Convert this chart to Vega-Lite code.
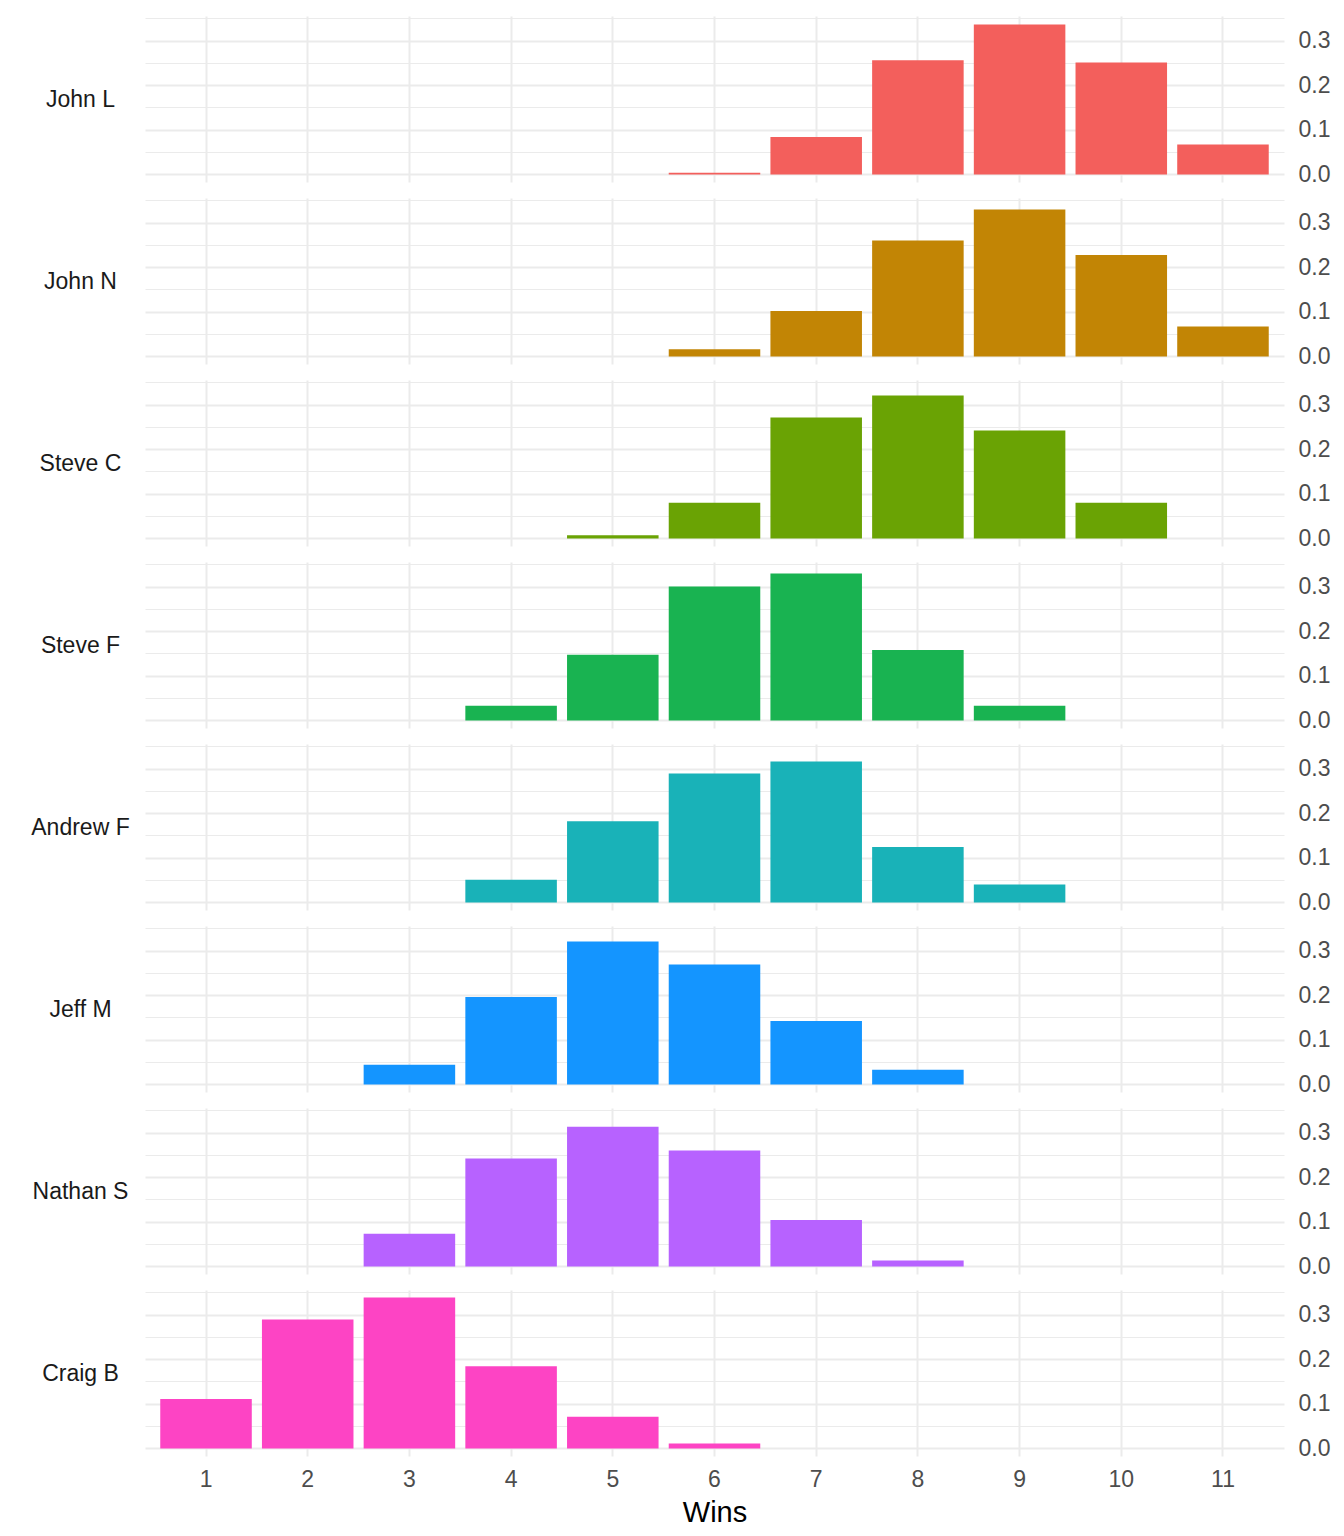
{
  "$schema": "https://vega.github.io/schema/vega-lite/v6.json",
  "background": "white",
  "padding": {"left": 30, "top": 16, "right": 5, "bottom": 5},
  "bounds": "flush",
  "spacing": 16,
  "data": {"values": [
    {"player": "John L", "wins": 6, "prob": 0.004},
    {"player": "John L", "wins": 7, "prob": 0.084},
    {"player": "John L", "wins": 8, "prob": 0.256},
    {"player": "John L", "wins": 9, "prob": 0.336},
    {"player": "John L", "wins": 10, "prob": 0.251},
    {"player": "John L", "wins": 11, "prob": 0.067},
    {"player": "John N", "wins": 6, "prob": 0.016},
    {"player": "John N", "wins": 7, "prob": 0.102},
    {"player": "John N", "wins": 8, "prob": 0.26},
    {"player": "John N", "wins": 9, "prob": 0.329},
    {"player": "John N", "wins": 10, "prob": 0.227},
    {"player": "John N", "wins": 11, "prob": 0.067},
    {"player": "Steve C", "wins": 5, "prob": 0.007},
    {"player": "Steve C", "wins": 6, "prob": 0.08},
    {"player": "Steve C", "wins": 7, "prob": 0.271},
    {"player": "Steve C", "wins": 8, "prob": 0.32},
    {"player": "Steve C", "wins": 9, "prob": 0.242},
    {"player": "Steve C", "wins": 10, "prob": 0.08},
    {"player": "Steve F", "wins": 4, "prob": 0.033},
    {"player": "Steve F", "wins": 5, "prob": 0.147},
    {"player": "Steve F", "wins": 6, "prob": 0.3},
    {"player": "Steve F", "wins": 7, "prob": 0.329},
    {"player": "Steve F", "wins": 8, "prob": 0.158},
    {"player": "Steve F", "wins": 9, "prob": 0.033},
    {"player": "Andrew F", "wins": 4, "prob": 0.051},
    {"player": "Andrew F", "wins": 5, "prob": 0.182},
    {"player": "Andrew F", "wins": 6, "prob": 0.289},
    {"player": "Andrew F", "wins": 7, "prob": 0.316},
    {"player": "Andrew F", "wins": 8, "prob": 0.124},
    {"player": "Andrew F", "wins": 9, "prob": 0.04},
    {"player": "Jeff M", "wins": 3, "prob": 0.044},
    {"player": "Jeff M", "wins": 4, "prob": 0.196},
    {"player": "Jeff M", "wins": 5, "prob": 0.32},
    {"player": "Jeff M", "wins": 6, "prob": 0.269},
    {"player": "Jeff M", "wins": 7, "prob": 0.142},
    {"player": "Jeff M", "wins": 8, "prob": 0.033},
    {"player": "Nathan S", "wins": 3, "prob": 0.073},
    {"player": "Nathan S", "wins": 4, "prob": 0.242},
    {"player": "Nathan S", "wins": 5, "prob": 0.313},
    {"player": "Nathan S", "wins": 6, "prob": 0.26},
    {"player": "Nathan S", "wins": 7, "prob": 0.104},
    {"player": "Nathan S", "wins": 8, "prob": 0.013},
    {"player": "Craig B", "wins": 1, "prob": 0.111},
    {"player": "Craig B", "wins": 2, "prob": 0.289},
    {"player": "Craig B", "wins": 3, "prob": 0.338},
    {"player": "Craig B", "wins": 4, "prob": 0.184},
    {"player": "Craig B", "wins": 5, "prob": 0.071},
    {"player": "Craig B", "wins": 6, "prob": 0.011}
  ]},
  "vconcat": [
    {
      "transform": [{"filter": "datum.player == 'John L'"}],
      "width": 1139, "height": 166, "mark": "bar",
      "encoding": {
        "x": {"field": "wins", "type": "ordinal", "scale": {"domain": [1,2,3,4,5,6,7,8,9,10,11], "paddingInner": 0.1, "paddingOuter": 0.15}, "axis": {"labels": false, "title": null}},
        "y": {"field": "prob", "type": "quantitative", "scale": {"domain": [-0.017, 0.355], "nice": false, "zero": false},
          "axis": {"orient": "right", "values": [0, 0.05, 0.1, 0.15, 0.2, 0.25, 0.3, 0.35],
            "labelExpr": "(round(datum.value*100) % 10 == 0) ? format(datum.value, '.1f') : ''",
            "gridWidth": {"condition": {"test": "round(datum.value*100) % 10 == 0", "value": 2}, "value": 1},
            "title": "John L", "titleX": -1204, "titleY": 83}},
        "color": {"field": "player", "type": "nominal", "legend": null, "scale": {"domain": ["John L", "John N", "Steve C", "Steve F", "Andrew F", "Jeff M", "Nathan S", "Craig B"], "range": ["#F35F5C", "#C28505", "#6AA304", "#19B351", "#19B2B8", "#1495FF", "#B762FF", "#FD44C4"]}}
      }
    },
    {
      "transform": [{"filter": "datum.player == 'John N'"}],
      "width": 1139, "height": 166, "mark": "bar",
      "encoding": {
        "x": {"field": "wins", "type": "ordinal", "scale": {"domain": [1,2,3,4,5,6,7,8,9,10,11], "paddingInner": 0.1, "paddingOuter": 0.15}, "axis": {"labels": false, "title": null}},
        "y": {"field": "prob", "type": "quantitative", "scale": {"domain": [-0.017, 0.355], "nice": false, "zero": false},
          "axis": {"orient": "right", "values": [0, 0.05, 0.1, 0.15, 0.2, 0.25, 0.3, 0.35],
            "labelExpr": "(round(datum.value*100) % 10 == 0) ? format(datum.value, '.1f') : ''",
            "gridWidth": {"condition": {"test": "round(datum.value*100) % 10 == 0", "value": 2}, "value": 1},
            "title": "John N", "titleX": -1204, "titleY": 83}},
        "color": {"field": "player", "type": "nominal", "legend": null, "scale": {"domain": ["John L", "John N", "Steve C", "Steve F", "Andrew F", "Jeff M", "Nathan S", "Craig B"], "range": ["#F35F5C", "#C28505", "#6AA304", "#19B351", "#19B2B8", "#1495FF", "#B762FF", "#FD44C4"]}}
      }
    },
    {
      "transform": [{"filter": "datum.player == 'Steve C'"}],
      "width": 1139, "height": 166, "mark": "bar",
      "encoding": {
        "x": {"field": "wins", "type": "ordinal", "scale": {"domain": [1,2,3,4,5,6,7,8,9,10,11], "paddingInner": 0.1, "paddingOuter": 0.15}, "axis": {"labels": false, "title": null}},
        "y": {"field": "prob", "type": "quantitative", "scale": {"domain": [-0.017, 0.355], "nice": false, "zero": false},
          "axis": {"orient": "right", "values": [0, 0.05, 0.1, 0.15, 0.2, 0.25, 0.3, 0.35],
            "labelExpr": "(round(datum.value*100) % 10 == 0) ? format(datum.value, '.1f') : ''",
            "gridWidth": {"condition": {"test": "round(datum.value*100) % 10 == 0", "value": 2}, "value": 1},
            "title": "Steve C", "titleX": -1204, "titleY": 83}},
        "color": {"field": "player", "type": "nominal", "legend": null, "scale": {"domain": ["John L", "John N", "Steve C", "Steve F", "Andrew F", "Jeff M", "Nathan S", "Craig B"], "range": ["#F35F5C", "#C28505", "#6AA304", "#19B351", "#19B2B8", "#1495FF", "#B762FF", "#FD44C4"]}}
      }
    },
    {
      "transform": [{"filter": "datum.player == 'Steve F'"}],
      "width": 1139, "height": 166, "mark": "bar",
      "encoding": {
        "x": {"field": "wins", "type": "ordinal", "scale": {"domain": [1,2,3,4,5,6,7,8,9,10,11], "paddingInner": 0.1, "paddingOuter": 0.15}, "axis": {"labels": false, "title": null}},
        "y": {"field": "prob", "type": "quantitative", "scale": {"domain": [-0.017, 0.355], "nice": false, "zero": false},
          "axis": {"orient": "right", "values": [0, 0.05, 0.1, 0.15, 0.2, 0.25, 0.3, 0.35],
            "labelExpr": "(round(datum.value*100) % 10 == 0) ? format(datum.value, '.1f') : ''",
            "gridWidth": {"condition": {"test": "round(datum.value*100) % 10 == 0", "value": 2}, "value": 1},
            "title": "Steve F", "titleX": -1204, "titleY": 83}},
        "color": {"field": "player", "type": "nominal", "legend": null, "scale": {"domain": ["John L", "John N", "Steve C", "Steve F", "Andrew F", "Jeff M", "Nathan S", "Craig B"], "range": ["#F35F5C", "#C28505", "#6AA304", "#19B351", "#19B2B8", "#1495FF", "#B762FF", "#FD44C4"]}}
      }
    },
    {
      "transform": [{"filter": "datum.player == 'Andrew F'"}],
      "width": 1139, "height": 166, "mark": "bar",
      "encoding": {
        "x": {"field": "wins", "type": "ordinal", "scale": {"domain": [1,2,3,4,5,6,7,8,9,10,11], "paddingInner": 0.1, "paddingOuter": 0.15}, "axis": {"labels": false, "title": null}},
        "y": {"field": "prob", "type": "quantitative", "scale": {"domain": [-0.017, 0.355], "nice": false, "zero": false},
          "axis": {"orient": "right", "values": [0, 0.05, 0.1, 0.15, 0.2, 0.25, 0.3, 0.35],
            "labelExpr": "(round(datum.value*100) % 10 == 0) ? format(datum.value, '.1f') : ''",
            "gridWidth": {"condition": {"test": "round(datum.value*100) % 10 == 0", "value": 2}, "value": 1},
            "title": "Andrew F", "titleX": -1204, "titleY": 83}},
        "color": {"field": "player", "type": "nominal", "legend": null, "scale": {"domain": ["John L", "John N", "Steve C", "Steve F", "Andrew F", "Jeff M", "Nathan S", "Craig B"], "range": ["#F35F5C", "#C28505", "#6AA304", "#19B351", "#19B2B8", "#1495FF", "#B762FF", "#FD44C4"]}}
      }
    },
    {
      "transform": [{"filter": "datum.player == 'Jeff M'"}],
      "width": 1139, "height": 166, "mark": "bar",
      "encoding": {
        "x": {"field": "wins", "type": "ordinal", "scale": {"domain": [1,2,3,4,5,6,7,8,9,10,11], "paddingInner": 0.1, "paddingOuter": 0.15}, "axis": {"labels": false, "title": null}},
        "y": {"field": "prob", "type": "quantitative", "scale": {"domain": [-0.017, 0.355], "nice": false, "zero": false},
          "axis": {"orient": "right", "values": [0, 0.05, 0.1, 0.15, 0.2, 0.25, 0.3, 0.35],
            "labelExpr": "(round(datum.value*100) % 10 == 0) ? format(datum.value, '.1f') : ''",
            "gridWidth": {"condition": {"test": "round(datum.value*100) % 10 == 0", "value": 2}, "value": 1},
            "title": "Jeff M", "titleX": -1204, "titleY": 83}},
        "color": {"field": "player", "type": "nominal", "legend": null, "scale": {"domain": ["John L", "John N", "Steve C", "Steve F", "Andrew F", "Jeff M", "Nathan S", "Craig B"], "range": ["#F35F5C", "#C28505", "#6AA304", "#19B351", "#19B2B8", "#1495FF", "#B762FF", "#FD44C4"]}}
      }
    },
    {
      "transform": [{"filter": "datum.player == 'Nathan S'"}],
      "width": 1139, "height": 166, "mark": "bar",
      "encoding": {
        "x": {"field": "wins", "type": "ordinal", "scale": {"domain": [1,2,3,4,5,6,7,8,9,10,11], "paddingInner": 0.1, "paddingOuter": 0.15}, "axis": {"labels": false, "title": null}},
        "y": {"field": "prob", "type": "quantitative", "scale": {"domain": [-0.017, 0.355], "nice": false, "zero": false},
          "axis": {"orient": "right", "values": [0, 0.05, 0.1, 0.15, 0.2, 0.25, 0.3, 0.35],
            "labelExpr": "(round(datum.value*100) % 10 == 0) ? format(datum.value, '.1f') : ''",
            "gridWidth": {"condition": {"test": "round(datum.value*100) % 10 == 0", "value": 2}, "value": 1},
            "title": "Nathan S", "titleX": -1204, "titleY": 83}},
        "color": {"field": "player", "type": "nominal", "legend": null, "scale": {"domain": ["John L", "John N", "Steve C", "Steve F", "Andrew F", "Jeff M", "Nathan S", "Craig B"], "range": ["#F35F5C", "#C28505", "#6AA304", "#19B351", "#19B2B8", "#1495FF", "#B762FF", "#FD44C4"]}}
      }
    },
    {
      "transform": [{"filter": "datum.player == 'Craig B'"}],
      "width": 1139, "height": 166, "mark": "bar",
      "encoding": {
        "x": {"field": "wins", "type": "ordinal", "scale": {"domain": [1,2,3,4,5,6,7,8,9,10,11], "paddingInner": 0.1, "paddingOuter": 0.15},
          "axis": {"title": "Wins", "labelPadding": 12, "titleFontSize": 29, "titleFontWeight": "normal", "titleColor": "#000000", "titlePadding": 7}},
        "y": {"field": "prob", "type": "quantitative", "scale": {"domain": [-0.017, 0.355], "nice": false, "zero": false},
          "axis": {"orient": "right", "values": [0, 0.05, 0.1, 0.15, 0.2, 0.25, 0.3, 0.35],
            "labelExpr": "(round(datum.value*100) % 10 == 0) ? format(datum.value, '.1f') : ''",
            "gridWidth": {"condition": {"test": "round(datum.value*100) % 10 == 0", "value": 2}, "value": 1},
            "title": "Craig B", "titleX": -1204, "titleY": 83}},
        "color": {"field": "player", "type": "nominal", "legend": null, "scale": {"domain": ["John L", "John N", "Steve C", "Steve F", "Andrew F", "Jeff M", "Nathan S", "Craig B"], "range": ["#F35F5C", "#C28505", "#6AA304", "#19B351", "#19B2B8", "#1495FF", "#B762FF", "#FD44C4"]}}
      }
    }
  ],
  "config": {
    "font": "Liberation Sans",
    "view": {"stroke": null},
    "axis": {"ticks": false, "domain": false, "grid": true, "gridColor": "#EBEBEB", "labelFontSize": 23, "labelColor": "#4D4D4D", "labelFont": "Liberation Sans"},
    "axisX": {"labelAngle": 0, "bandPosition": 0.5, "gridWidth": 2},
    "axisY": {"labelPadding": 14, "labelBaseline": "middle", "titleAngle": 0, "titleAlign": "center", "titleBaseline": "middle", "titleFontSize": 23, "titleFontWeight": "normal", "titleColor": "#1A1A1A"}
  }
}
